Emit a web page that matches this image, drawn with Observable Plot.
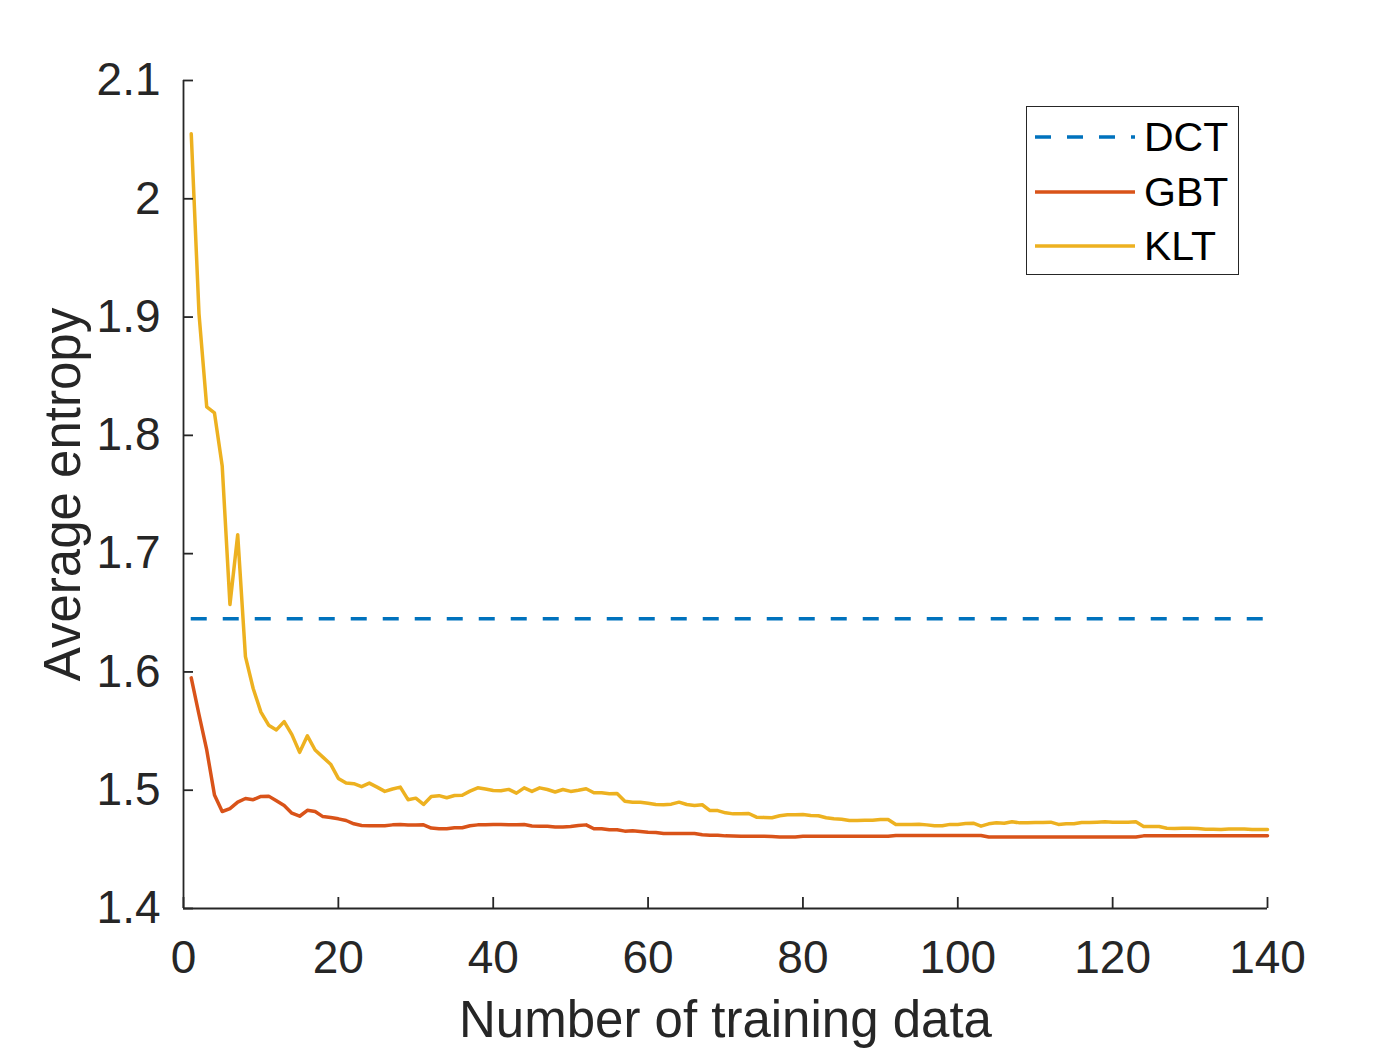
<!DOCTYPE html>
<html>
<head>
<meta charset="utf-8">
<script src="https://cdn.jsdelivr.net/npm/d3@7"></script>
<script src="https://cdn.jsdelivr.net/npm/@observablehq/plot@0.6"></script>
<style>
  html, body { margin: 0; padding: 0; background: #fff; }
  #wrap { position: relative; width: 1400px; height: 1050px; font-family: "Liberation Sans", Arial, Helvetica, sans-serif; }
  #legend { position: absolute; left: 1026px; top: 106px; width: 211px; height: 167px; border: 1.5px solid #262626; background: #fff; }
  .row { position: absolute; left: 0; height: 0; }
  .row svg { position: absolute; left: 8px; top: -5px; }
  .row span { position: absolute; left: 117px; top: 0; transform: translateY(-50%); font-size: 41px; color: #000; line-height: 1; white-space: nowrap; }
</style>
</head>
<body>
<div id="wrap"></div>
<script>
// ---- data ----
const seriesNames = ["DCT", "GBT", "KLT"];
const seriesColors = ["#0072BD", "#D95319", "#EDB120"];

const dctValue = 1.645;

const klt = [
  2.055, 1.903, 1.824, 1.819, 1.774, 1.657, 1.716, 1.613, 1.586, 1.566,
  1.555, 1.551, 1.558, 1.547, 1.532, 1.546, 1.534, 1.528, 1.522, 1.510,
  1.506, 1.5055, 1.503, 1.506, 1.5026, 1.499, 1.501, 1.5026, 1.492, 1.4933,
  1.488, 1.4947, 1.4954, 1.4936, 1.4955, 1.4957, 1.4992, 1.502, 1.501, 1.4998,
  1.4995, 1.5007, 1.4975, 1.502, 1.499, 1.502, 1.5006, 1.4985, 1.5006, 1.499,
  1.5, 1.5012, 1.4978, 1.4978, 1.497, 1.4972, 1.4907, 1.4899, 1.4899, 1.489,
  1.4879, 1.4877, 1.4882, 1.4899, 1.4879, 1.4871, 1.4877, 1.4828, 1.4828, 1.4809,
  1.48, 1.4802, 1.4803, 1.4772, 1.477, 1.4767, 1.4784, 1.4792, 1.4792, 1.4795,
  1.4787, 1.4784, 1.4767, 1.4758, 1.4755, 1.4744, 1.4744, 1.4747, 1.4747, 1.4753,
  1.4753, 1.471, 1.471, 1.471, 1.4712, 1.4707, 1.4699, 1.4699, 1.4711, 1.471,
  1.4718, 1.4721, 1.4696, 1.4716, 1.4724, 1.4721, 1.4733, 1.4724, 1.4724, 1.4727,
  1.4727, 1.473, 1.4711, 1.4716, 1.4716, 1.4727, 1.4727, 1.473, 1.4733, 1.473,
  1.473, 1.473, 1.4733, 1.4693, 1.4693, 1.4693, 1.4679, 1.4676, 1.4679, 1.4679,
  1.4676, 1.467, 1.467, 1.4668, 1.4673, 1.4673, 1.4673, 1.4668, 1.4668, 1.4668
];

const gbt = [
  1.595, 1.564, 1.534, 1.496, 1.482, 1.4845, 1.490, 1.493, 1.492, 1.4947,
  1.495, 1.491, 1.487, 1.4806, 1.478, 1.483, 1.482, 1.4777, 1.477, 1.4758,
  1.4744, 1.4716, 1.4702, 1.470, 1.470, 1.470, 1.4707, 1.471, 1.4705, 1.4705,
  1.4707, 1.468, 1.4674, 1.4674, 1.4683, 1.4683, 1.470, 1.4707, 1.4707, 1.471,
  1.471, 1.4707, 1.4707, 1.471, 1.4697, 1.4695, 1.4695, 1.469, 1.469, 1.4693,
  1.4702, 1.4707, 1.4674, 1.4674, 1.4665, 1.4665, 1.4654, 1.4657, 1.4651, 1.4645,
  1.4643, 1.4634, 1.4634, 1.4634, 1.4634, 1.4634, 1.4623, 1.462, 1.462, 1.4614,
  1.4612, 1.461, 1.461, 1.461, 1.461, 1.4608, 1.4605, 1.4605, 1.4605, 1.461,
  1.461, 1.461, 1.461, 1.461, 1.461, 1.461, 1.461, 1.461, 1.461, 1.461,
  1.461, 1.4617, 1.4617, 1.4617, 1.4617, 1.4617, 1.4617, 1.4617, 1.4617, 1.4617,
  1.4617, 1.4617, 1.4617, 1.4604, 1.4604, 1.4604, 1.4604, 1.4604, 1.4604, 1.4604,
  1.4604, 1.4604, 1.4604, 1.4604, 1.4604, 1.4604, 1.4604, 1.4604, 1.4604, 1.4604,
  1.4604, 1.4604, 1.4604, 1.4614, 1.4614, 1.4614, 1.4614, 1.4614, 1.4614, 1.4614,
  1.4614, 1.4614, 1.4614, 1.4614, 1.4614, 1.4614, 1.4614, 1.4614, 1.4614, 1.4614
];

const xTicks = [0, 20, 40, 60, 80, 100, 120, 140];
const xTickLabels = ["0", "20", "40", "60", "80", "100", "120", "140"];
const yTicks = [1.4, 1.5, 1.6, 1.7, 1.8, 1.9, 2.0, 2.1];
const yTickLabels = ["1.4", "1.5", "1.6", "1.7", "1.8", "1.9", "2", "2.1"];
const xLabel = "Number of training data";
const yLabel = "Average entropy";

// ---- build table ----
const xs = klt.map((_, i) => i + 1);
const kltData = xs.map((x, i) => ({x, y: klt[i]}));
const gbtData = xs.map((x, i) => ({x, y: gbt[i]}));

const W = 1400, H = 1050;
const mL = 183, mR = 133, mT = 80, mB = 142;
const plotW = W - mL - mR, plotH = H - mT - mB;
const axisColor = "#262626";
const lw = 3.5;

const chart = Plot.plot({
  width: W, height: H,
  marginLeft: mL, marginRight: mR, marginTop: mT, marginBottom: mB,
  style: { fontFamily: '"Liberation Sans", Arial, Helvetica, sans-serif', color: axisColor, background: "#fff" },
  x: { domain: [0, 140], label: null },
  y: { domain: [1.4, 2.1], label: null },
  marks: [
    Plot.ruleY([dctValue], { x1: xs[0], x2: xs[xs.length - 1], stroke: seriesColors[0], strokeWidth: lw, strokeDasharray: "16,16" }),
    Plot.line(gbtData, { x: "x", y: "y", stroke: seriesColors[1], strokeWidth: lw }),
    Plot.line(kltData, { x: "x", y: "y", stroke: seriesColors[2], strokeWidth: lw }),
    Plot.ruleX([0], { stroke: axisColor, strokeWidth: 1.8 }),
    Plot.ruleY([1.4], { stroke: axisColor, strokeWidth: 1.8 }),
    Plot.tickX(xTicks, { x: d => d, insetTop: plotH - 11, stroke: axisColor, strokeWidth: 1.8 }),
    Plot.tickY(yTicks, { y: d => d, insetRight: plotW - 10, stroke: axisColor, strokeWidth: 1.8 }),
    Plot.axisX({ ticks: xTicks, tickSize: 0, tickPadding: 32, fontSize: 46, fill: axisColor, tickFormat: (d) => xTickLabels[xTicks.indexOf(d)], label: null }),
    Plot.axisY({ ticks: yTicks, tickSize: 0, tickPadding: 23, fontSize: 46, fill: axisColor, tickFormat: (d) => yTickLabels[yTicks.findIndex(t => Math.abs(t - d) < 1e-9)], label: null }),
    Plot.text([xLabel], { frameAnchor: "bottom", text: d => d, dy: 112, textAnchor: "middle", lineAnchor: "middle", fontSize: 51, fill: axisColor }),
    Plot.text([yLabel], { frameAnchor: "left", text: d => d, dx: -120, rotate: -90, textAnchor: "middle", lineAnchor: "middle", fontSize: 51, fill: axisColor })
  ]
});

const wrap = document.getElementById("wrap");
wrap.appendChild(chart);

// ---- legend ----
const legend = document.createElement("div");
legend.id = "legend";
const rowTops = [30, 85, 139];
seriesNames.forEach((name, i) => {
  const row = document.createElement("div");
  row.className = "row";
  row.style.top = rowTops[i] + "px";
  const dash = i === 0 ? 'stroke-dasharray="16,16"' : "";
  row.innerHTML = `<svg width="100" height="10"><line x1="0" y1="5" x2="100" y2="5" stroke="${seriesColors[i]}" stroke-width="${lw}" ${dash}/></svg><span>${name}</span>`;
  legend.appendChild(row);
});
wrap.appendChild(legend);
</script>
</body>
</html>
